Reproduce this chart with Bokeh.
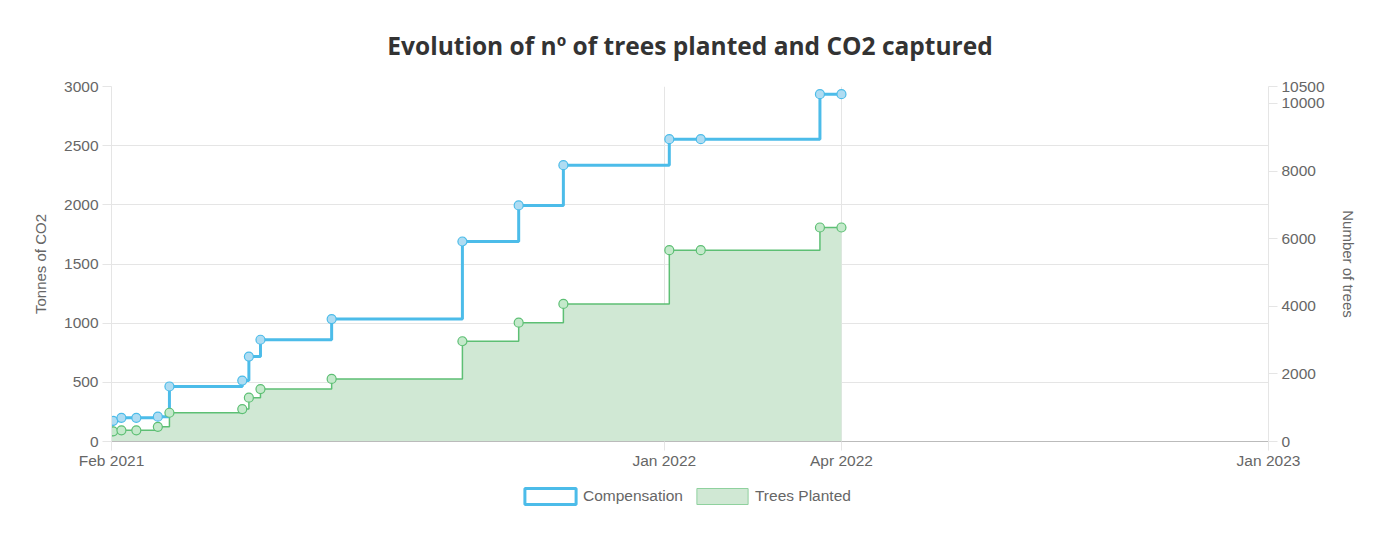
import pandas as pd
from bokeh.plotting import figure
from bokeh.layouts import column
from bokeh.models import (Range1d, LinearAxis, FixedTicker, Legend, LegendItem,
                          ColumnDataSource)
from bokeh.embed import file_html
from bokeh.resources import INLINE

# ---- data ----
dates = ["2021-02-01", "2021-02-02", "2021-02-07", "2021-02-16", "2021-03-01",
         "2021-03-08", "2021-04-21", "2021-04-25", "2021-05-02", "2021-06-14",
         "2021-09-01", "2021-10-05", "2021-11-01", "2022-01-04", "2022-01-23",
         "2022-04-05", "2022-04-18"]
compensation = [170, 175, 200, 200, 210, 465, 515, 718, 860, 1035,
                1690, 1995, 2335, 2555, 2555, 2935, 2935]
trees_planted = [300, 300, 330, 330, 435, 850, 960, 1295, 1550, 1850,
                 2965, 3515, 4070, 5660, 5660, 6330, 6330]

x_tick_dates = ["2021-02-01", "2022-01-01", "2022-04-18", "2023-01-01"]
x_tick_labels = ["Feb 2021", "Jan 2022", "Apr 2022", "Jan 2023"]
co2_ticks = [0, 500, 1000, 1500, 2000, 2500, 3000]
tree_ticks = [0, 2000, 4000, 6000, 8000, 10000, 10500]

# ---- styles ----
BLUE = "#4cbce9"
BLUE_PT = "#afdcf2"
GREEN = "#5dbf74"
GREEN_PT = "#c4e9cb"
GREEN_AREA = "#d0e8d4"
GRID = "#e5e5e5"
TXT = "#666666"
FONT = "Liberation Sans"

x = pd.to_datetime(dates)
src = ColumnDataSource(dict(x=x, comp=compensation, trees=trees_planted))

def ms(d):
    return float(pd.Timestamp(d).value // 10**6)

p = figure(width=1385, height=480, x_axis_type="datetime",
           output_backend="svg", toolbar_location=None,
           x_range=Range1d(pd.Timestamp("2021-02-01"), pd.Timestamp("2023-01-01")),
           y_range=Range1d(0, 3000),
           min_border_left=111, min_border_right=117,
           min_border_top=86, min_border_bottom=39)
p.extra_y_ranges = {"trees": Range1d(0, 10500)}
p.outline_line_color = None
p.background_fill_color = "white"
p.border_fill_color = "white"

p.title.text = "Evolution of nº of trees planted and CO2 captured"
p.title.align = "center"
p.title.text_font = "Open Sans"
p.title.text_font_size = "24.5px"
p.title.text_font_style = "bold"
p.title.text_color = "#333333"
p.title.standoff = 50
p.title.offset = 4

# x axis
xa = p.xaxis[0]
xa.ticker = FixedTicker(ticks=[ms(d) for d in x_tick_dates])
xa.major_label_overrides = {ms(d): lab for d, lab in zip(x_tick_dates, x_tick_labels)}
xa.minor_tick_line_color = None
xa.major_tick_out = 9
xa.major_tick_in = 0
xa.major_tick_line_color = GRID
xa.axis_line_color = "#bbbbbb"
xa.major_label_text_font = FONT
xa.major_label_text_font_size = "15.5px"
xa.major_label_text_color = TXT
xa.major_label_standoff = 1

# left axis
ya = p.yaxis[0]
ya.ticker = FixedTicker(ticks=co2_ticks)
ya.axis_label = "Tonnes of CO2"
ya.minor_tick_line_color = None
ya.major_tick_out = 9
ya.major_tick_in = 0
ya.major_tick_line_color = GRID
ya.axis_line_color = GRID
ya.major_label_text_font = FONT
ya.major_label_text_font_size = "15.5px"
ya.major_label_text_color = TXT
ya.major_label_standoff = 4
ya.axis_label_text_font = FONT
ya.axis_label_text_font_size = "15px"
ya.axis_label_text_font_style = "normal"
ya.axis_label_text_color = TXT
ya.axis_label_standoff = 12

# right axis
ra = LinearAxis(y_range_name="trees", axis_label="Number of trees",
                ticker=FixedTicker(ticks=tree_ticks))
ra.minor_tick_line_color = None
ra.major_tick_out = 9
ra.major_tick_in = 0
ra.major_tick_line_color = GRID
ra.axis_line_color = GRID
ra.major_label_text_font = FONT
ra.major_label_text_font_size = "15.5px"
ra.major_label_text_color = TXT
ra.major_label_standoff = 4
ra.axis_label_text_font = FONT
ra.axis_label_text_font_size = "15px"
ra.axis_label_text_font_style = "normal"
ra.axis_label_text_color = TXT
ra.axis_label_standoff = 12
p.add_layout(ra, "right")

p.xgrid.grid_line_color = GRID
p.ygrid.grid_line_color = GRID

# glyphs
p.varea_step(x="x", y1=0, y2="trees", step_mode="after", source=src,
             y_range_name="trees", fill_color=GREEN_AREA)
p.step(x="x", y="trees", mode="after", source=src, y_range_name="trees",
       line_color=GREEN, line_width=1.5)
p.step(x="x", y="comp", mode="after", source=src,
       line_color=BLUE, line_width=3)
p.scatter(x="x", y="trees", source=src, y_range_name="trees", size=9,
          fill_color=GREEN_PT, line_color=GREEN, line_width=1.2)
p.scatter(x="x", y="comp", source=src, size=9,
          fill_color=BLUE_PT, line_color=BLUE, line_width=1.2)

# legend strip (separate small figure so the legend sits below the axis)
lg = figure(width=1385, height=78, output_backend="svg", toolbar_location=None,
            x_range=Range1d(0, 1), y_range=Range1d(0, 1),
            x_axis_location=None, y_axis_location=None,
            min_border=0, min_border_left=0, min_border_right=0,
            min_border_top=0, min_border_bottom=0)
lg.outline_line_color = None
lg.xgrid.visible = False
lg.ygrid.visible = False
# proxy glyphs kept outside the visible range; only their legend swatches show
r_comp = lg.quad(left=[5], right=[6], top=[6], bottom=[5], fill_color="white",
                 line_color=BLUE, line_width=3)
r_tree = lg.quad(left=[5], right=[6], top=[6], bottom=[5], fill_color=GREEN_AREA,
                 line_color="#8fd19e", line_width=1)
legend = Legend(items=[LegendItem(label="Compensation", renderers=[r_comp]),
                       LegendItem(label="Trees Planted", renderers=[r_tree])],
                orientation="horizontal", location=(407, 52),
                glyph_width=64, glyph_height=20, label_standoff=1, spacing=7,
                label_text_font=FONT, label_text_font_size="15.5px",
                label_text_color=TXT, border_line_color=None,
                background_fill_alpha=0, margin=0, padding=0)
lg.add_layout(legend, "center")

layout = column(p, lg, spacing=0)
open("out.html", "w").write(file_html(layout, INLINE))
